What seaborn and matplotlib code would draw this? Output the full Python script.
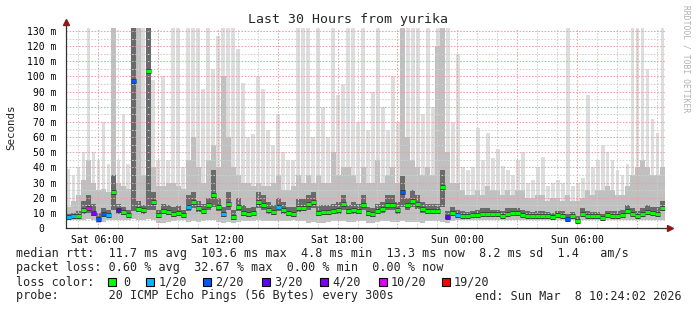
import numpy as np
import pandas as pd
import matplotlib
matplotlib.use("Agg")
import matplotlib.pyplot as plt
import matplotlib.dates as mdates
from matplotlib.ticker import MultipleLocator, FuncFormatter
from matplotlib.patches import Rectangle
import seaborn as sns

# ---------------- data (15-minute bins, Sat 04:24 -> Sun 10:24) ----------------
start_time = "2026-03-07 04:24:02"
bin_minutes = 15

median_ms = [
    7.3, 7.7, 8.0, 12.0, 13.0, 10.0, 6.2, 9.0, 8.4, 24.0, 12.0, 10.6, 8.4, 97.0, 12.8, 11.7, 103.6, 17.0, 8.5, 11.0, 10.6, 9.5, 10.0, 8.8,
    14.0, 17.0, 13.0, 11.0, 15.0, 22.0, 14.0, 9.0, 16.0, 7.0, 14.0, 10.0, 9.0, 10.0, 17.0, 15.0, 12.0, 10.5, 14.0, 12.0, 10.0, 9.5, 13.0, 13.5,
    16.0, 17.0, 10.0, 10.5, 10.5, 11.0, 12.0, 16.0, 11.0, 12.0, 11.0, 15.0, 10.0, 9.0, 11.0, 12.5, 15.0, 15.0, 12.0, 24.0, 15.0, 18.0, 16.0, 12.5,
    11.5, 11.5, 11.0, 27.0, 7.3, 10.0, 8.4, 8.0, 7.9, 8.5, 8.7, 9.5, 9.5, 9.0, 9.0, 8.0, 9.5, 10.0, 10.0, 8.8, 8.0, 7.8, 8.0, 8.0,
    7.7, 7.5, 8.5, 8.0, 6.2, 7.7, 4.8, 9.5, 8.0, 7.7, 7.8, 6.8, 8.5, 8.0, 8.0, 8.5, 11.0, 9.5, 8.0, 9.0, 10.5, 10.0, 9.5, 13.3,
]

# index into loss_labels / loss_colors
loss_idx = [
    1, 1, 0, 0, 5, 4, 2, 2, 1, 0, 3, 0, 0, 2, 0, 0, 0, 0, 0, 0, 0, 0, 0, 0,
    1, 0, 0, 0, 0, 0, 0, 1, 0, 0, 0, 0, 0, 0, 0, 0, 0, 0, 1, 0, 0, 0, 0, 0,
    0, 0, 0, 0, 0, 0, 0, 0, 0, 0, 0, 0, 0, 0, 0, 0, 0, 0, 0, 2, 0, 0, 0, 0,
    0, 0, 0, 0, 3, 0, 1, 0, 0, 0, 0, 0, 0, 0, 0, 0, 0, 0, 0, 0, 0, 0, 0, 0,
    0, 0, 0, 0, 2, 0, 0, 0, 0, 0, 0, 0, 0, 0, 0, 0, 0, 0, 0, 0, 0, 0, 0, 0,
]

smoke_lo = [
    5, 5, 5, 5, 6, 5, 3.5, 4, 5, 5, 5, 5, 5, 6, 5, 5, 6, 5, 3, 3.5, 4, 4.5, 5, 5,
    4, 4.5, 4, 4.5, 5, 5, 4, 3, 4, 3, 4, 4.5, 4.5, 4.5, 5, 4.5, 4.5, 4.5, 4.5, 4.5, 4.5, 5, 4.5, 4.5,
    3.5, 4, 3, 3.5, 4, 4.5, 4.5, 4.5, 4, 4, 4.5, 4.5, 3.5, 3.5, 4, 4.5, 4.5, 4, 4, 4.5, 4, 4, 4, 3.5,
    4.5, 4.5, 4.5, 4, 3.5, 4.5, 5, 5, 5, 5, 5, 5, 5, 5, 5, 5, 5, 5, 5, 5, 5, 5, 5, 5,
    5, 5, 5, 5, 4, 5, 3.5, 5, 5, 5, 5, 4.5, 5, 5, 5, 5, 5, 5, 5, 5, 5, 5, 5, 5,
]

core_lo = [
    6.5, 6.5, 7, 9.5, 10, 8, 5, 7, 7, 12, 9.5, 8.5, 7, 11, 10.5, 9.5, 12, 12, 6.5, 9, 8.5, 7.5, 8, 7,
    11, 13, 10.5, 9, 12, 14, 11, 7, 12, 5.5, 11, 8, 7, 8, 13, 12, 9.5, 8.5, 11, 9.5, 8, 7.5, 10.5, 11,
    12, 13, 8, 8.5, 8.5, 9, 9.5, 12, 9, 9.5, 9, 12, 8, 7.5, 9, 10, 12, 12, 9.5, 14, 12, 14, 12.5, 10,
    9.5, 9.5, 9, 14, 6, 8.5, 7, 6.8, 6.7, 7.2, 7.3, 8, 8, 7.6, 7.6, 6.8, 8, 8.5, 8.5, 7.5, 6.8, 6.6, 6.8, 6.8,
    6.5, 6.4, 7.2, 6.8, 5.2, 6.5, 4.3, 8, 6.8, 6.5, 6.6, 5.8, 7.2, 6.8, 6.8, 7.2, 9.5, 8, 6.8, 7.6, 9, 8.5, 8, 11,
]

core_hi = [
    9.5, 10, 11, 18, 22, 16, 10, 13, 12, 35, 16, 14, 12, 135, 18, 15, 135, 24, 12, 16, 15, 14, 15, 12,
    22, 24, 18, 16, 20, 38, 20, 14, 24, 12, 20, 15, 13, 14, 24, 22, 17, 15, 20, 17, 14, 14, 19, 19,
    22, 24, 15, 15, 15, 16, 17, 22, 15, 17, 16, 22, 14, 13, 16, 17, 22, 22, 17, 34, 20, 25, 22, 17,
    16, 16, 16, 38, 11, 14, 12, 11, 10.5, 11.5, 12, 13, 13, 12, 12, 11, 13, 13, 13, 12, 11, 10.5, 11, 11,
    10.5, 10, 11.5, 11, 9, 10.5, 8, 13, 11, 10.5, 10.5, 9.5, 11.5, 11, 11, 12, 15, 13, 11, 13, 15, 14, 14, 18,
]

smoke_mid = [
    14, 18, 22, 32, 45, 30, 25, 26, 24, 135, 30, 28, 26, 135, 135, 35, 135, 40, 28, 28, 30, 30, 28, 26,
    45, 60, 40, 30, 45, 55, 40, 100, 60, 40, 35, 30, 30, 28, 30, 28, 28, 30, 35, 25, 25, 28, 35, 30,
    35, 30, 35, 30, 30, 50, 35, 40, 40, 35, 30, 40, 30, 30, 45, 30, 35, 40, 30, 135, 60, 45, 40, 35,
    40, 35, 120, 135, 50, 30, 30, 25, 22, 22, 25, 22, 28, 25, 25, 22, 25, 22, 25, 25, 20, 20, 22, 22,
    18, 20, 20, 18, 22, 18, 18, 20, 25, 22, 25, 25, 28, 25, 22, 22, 28, 35, 40, 45, 40, 35, 35, 40,
]

smoke_hi = [
    39, 35, 40, 50, 135, 50, 45, 70, 42, 135, 45, 75, 42, 135, 135, 135, 135, 98, 45, 100, 45, 135, 135, 40,
    135, 135, 135, 92, 135, 105, 127, 135, 135, 135, 118, 96, 60, 62, 100, 92, 65, 55, 75, 50, 45, 45, 135, 135,
    135, 60, 135, 80, 60, 135, 88, 95, 135, 135, 70, 135, 65, 90, 135, 80, 65, 100, 70, 135, 135, 135, 135, 75,
    135, 80, 135, 135, 135, 70, 115, 40, 38, 40, 66, 45, 63, 46, 52, 41, 38, 35, 45, 50, 30, 32, 40, 47,
    28, 30, 32, 30, 135, 28, 30, 33, 88, 40, 45, 55, 50, 45, 38, 35, 42, 135, 135, 135, 105, 72, 63, 135,
]

loss_labels = ["0", "1/20", "2/20", "3/20", "4/20", "10/20", "19/20"]
loss_colors = ["#00ff00", "#00b8ff", "#0059ff", "#5e00ff", "#7e00ff", "#dd00ff", "#ff0000"]

title = "Last 30 Hours from yurika"
rtt_line = "median rtt:  11.7 ms avg  103.6 ms max  4.8 ms min  13.3 ms now  8.2 ms sd  1.4   am/s"
loss_line = "packet loss: 0.60 % avg  32.67 % max  0.00 % min  0.00 % now"
probe_line = "probe:       20 ICMP Echo Pings (56 Bytes) every 300s"
end_text = "end: Sun Mar  8 10:24:02 2026"

# ---------------- styling ----------------
sns.set_theme(style="white")
plt.rcParams["font.family"] = ["DejaVu Sans Mono"]
W, H = 697, 310
fig = plt.figure(figsize=(W / 100, H / 100), dpi=100)
fig.patch.set_facecolor("white")

def px(x, y):
    return x / W, 1 - y / H

ax = fig.add_axes([66 / W, 1 - 228 / H, (665 - 66) / W, (228 - 28) / H])
ax.set_facecolor("white")

times = pd.date_range(start_time, periods=len(median_ms), freq=f"{bin_minutes}min")
end_time = times[-1] + pd.Timedelta(minutes=bin_minutes)
xs = mdates.date2num(times.to_pydatetime())
x_end = mdates.date2num(end_time.to_pydatetime())
xe = np.append(xs, x_end)
w = x_end - xs[-1]

def ext(a):
    a = np.asarray(a, dtype=float)
    return np.append(a, a[-1])

lo, clo, chi, mid = map(ext, (smoke_lo, core_lo, core_hi, smoke_mid))

# outer smoke: slightly narrower bars give the spiky texture
hi_arr = np.asarray(smoke_hi, float)
lo_arr = np.asarray(smoke_lo, float)
ax.bar(xs + w * 0.12, hi_arr - lo_arr, bottom=lo_arr, width=w * 0.76, align="edge",
       color="#dddddd", linewidth=0, zorder=1)
ax.fill_between(xe, lo, mid, step="post", color="#c0c0c0", lw=0, zorder=1.2)
ax.fill_between(xe, clo, chi, step="post", color="#6a6a6a", lw=0, zorder=1.4)

# median: dark halo + loss-coloured segments
ax.hlines(median_ms, xs, xs + w, colors="#3a3a3a", lw=3.6, zorder=3.5)
ax.hlines(median_ms, xs, xs + w, colors=[loss_colors[k] for k in loss_idx],
          lw=2.3, zorder=4)

ax.set_xlim(xs[0], x_end)
ax.set_ylim(0, 132)

# grid
ax.yaxis.set_major_locator(MultipleLocator(10))
ax.yaxis.set_minor_locator(MultipleLocator(5))
ax.xaxis.set_major_locator(mdates.HourLocator(byhour=range(0, 24, 3)))
ax.xaxis.set_minor_locator(mdates.HourLocator())

def xfmt(v, p):
    d = mdates.num2date(v)
    return d.strftime("%a %H:%M") if d.hour % 6 == 0 else ""

ax.xaxis.set_major_formatter(FuncFormatter(xfmt))
ax.yaxis.set_major_formatter(FuncFormatter(lambda v, p: "0  " if v == 0 else f"{int(v)} m"))

ax.set_axisbelow(False)
ax.grid(which="major", color="#e9a3a3", ls=(0, (1.5, 1.5)), lw=0.75)
ax.grid(which="minor", color="#cfcfcf", ls=(0, (1.5, 1.5)), lw=0.75)

ax.tick_params(axis="both", which="both", length=0, labelsize=7, colors="#000000")
ax.tick_params(axis="y", pad=7)
ax.tick_params(axis="x", pad=5)

sns.despine(ax=ax, top=True, right=True)
for s in ("left", "bottom"):
    ax.spines[s].set_color("#333333")
    ax.spines[s].set_linewidth(0.9)
    ax.spines[s].set_zorder(5)

# axis arrows
ax.plot([0, 0], [1, 1.03], transform=ax.transAxes, color="#333333", lw=0.9, clip_on=False)
ax.plot([1, 1.008], [0, 0], transform=ax.transAxes, color="#333333", lw=0.9, clip_on=False)
ax.plot([0], [1.03], marker="^", ms=4, color="#8b1a1a", transform=ax.transAxes, clip_on=False)
ax.plot([1.008], [0], marker=">", ms=4, color="#8b1a1a", transform=ax.transAxes, clip_on=False)

# texts
fig.text(*px(348, 19), title, ha="center", va="center", fontsize=9.5)
fig.text(*px(11, 127), "Seconds", ha="center", va="center", rotation=90, fontsize=7.8)
fig.text(*px(686, 59), "RRDTOOL / TOBI OETIKER", ha="center", va="center", rotation=270,
         fontsize=5.8, color="#b0b0b0")

fs = 8.5
fig.text(*px(16, 254), rtt_line, ha="left", va="center", fontsize=fs)
fig.text(*px(16, 268), loss_line, ha="left", va="center", fontsize=fs)
fig.text(*px(16, 282), "loss color:", ha="left", va="center", fontsize=fs)
for lab, col, xs_, xt in zip(loss_labels, loss_colors,
                             [108, 146, 203, 262, 320, 379, 442],
                             [123.5, 158.7, 215.6, 274, 332, 391, 454]):
    fig.patches.append(Rectangle(px(xs_, 286), 8 / W, 8 / H, transform=fig.transFigure,
                                 facecolor=col, edgecolor="black", lw=0.8, figure=fig))
    fig.text(*px(xt, 282), lab, ha="left", va="center", fontsize=fs)
fig.text(*px(16, 296), probe_line, ha="left", va="center", fontsize=fs)
fig.text(*px(475, 296), end_text, ha="left", va="center", fontsize=fs)

fig.savefig("out.png", dpi=100, facecolor="white")
